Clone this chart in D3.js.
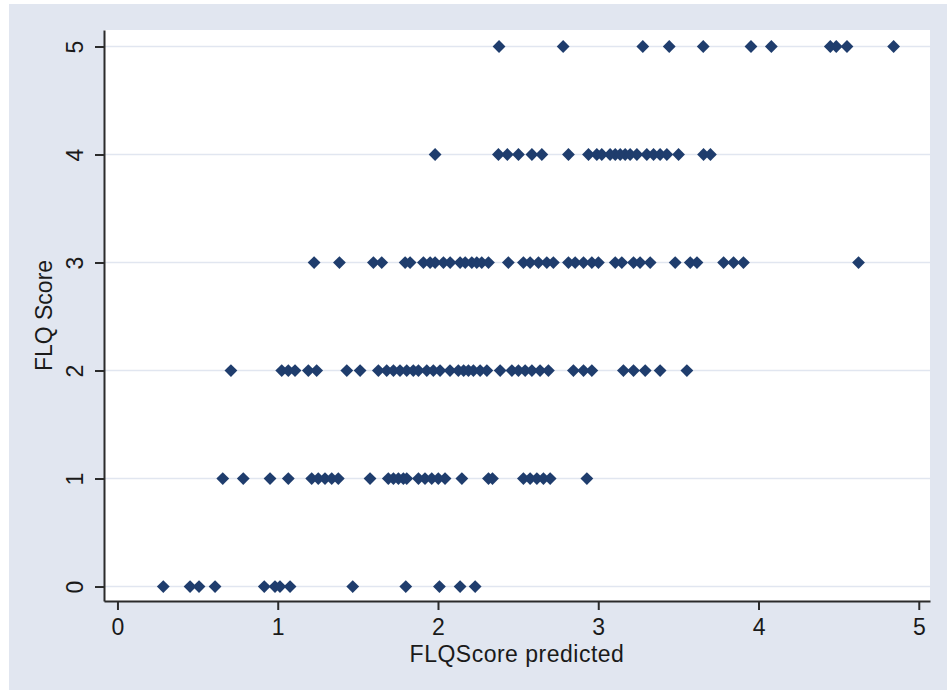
<!DOCTYPE html>
<html>
<head>
<meta charset="utf-8">
<script src="https://cdn.jsdelivr.net/npm/d3@7"></script>
<style>
  html, body { margin: 0; padding: 0; background: #fff; }
  svg { display: block; font-family: "Liberation Sans", Arial, sans-serif; }
</style>
</head>
<body>
<div id="chart"></div>
<script>
// predicted FLQ score, grouped by the observed FLQ score
const score0 = [0.286, 0.453, 0.509, 0.609, 0.916, 0.983, 1.014, 1.077, 1.468, 1.799, 2.009, 2.138, 2.232];
const score1 = [0.657, 0.785, 0.952, 1.066, 1.212, 1.253, 1.295, 1.337, 1.378, 1.576, 1.690, 1.722,
  1.753, 1.784, 1.805, 1.878, 1.919, 1.961, 2.002, 2.044, 2.149, 2.315, 2.340, 2.533, 2.575,
  2.617, 2.658, 2.700, 2.929];
const score2 = [0.708, 1.025, 1.066, 1.108, 1.191, 1.243, 1.431, 1.514, 1.628, 1.680, 1.722, 1.763,
  1.805, 1.846, 1.878, 1.930, 1.971, 2.013, 2.075, 2.127, 2.160, 2.190, 2.221, 2.263, 2.305,
  2.388, 2.461, 2.502, 2.544, 2.586, 2.637, 2.689, 2.845, 2.908, 2.960, 3.157, 3.220, 3.293,
  3.386, 3.553];
const score3 = [1.227, 1.385, 1.597, 1.649, 1.795, 1.826, 1.909, 1.951, 1.982, 2.034, 2.076, 2.138,
  2.170, 2.211, 2.242, 2.273, 2.315, 2.439, 2.533, 2.575, 2.627, 2.679, 2.720, 2.814, 2.856,
  2.908, 2.960, 3.001, 3.106, 3.147, 3.220, 3.261, 3.324, 3.480, 3.574, 3.616, 3.782, 3.844,
  3.906, 4.624];
const score4 = [1.982, 2.377, 2.433, 2.502, 2.586, 2.648, 2.814, 2.939, 2.991, 3.022, 3.074, 3.106,
  3.137, 3.168, 3.199, 3.241, 3.303, 3.345, 3.386, 3.428, 3.501, 3.657, 3.700];
const score5 = [2.381, 2.781, 3.278, 3.443, 3.655, 3.953, 4.080, 4.448, 4.485, 4.552, 4.843];

const xTicks = [0, 1, 2, 3, 4, 5];
const yTicks = [0, 1, 2, 3, 4, 5];
const xTitle = "FLQScore predicted";
const yTitle = "FLQ Score";

const W = 947, H = 691;
const plot = { left: 104, right: 930, top: 30, bottom: 601 };
const markColor = "#1f3d6d";

const points = [score0, score1, score2, score3, score4, score5]
  .flatMap((arr, score) => arr.map(p => ({ p, score })));

const x = d3.scaleLinear().domain([-0.084, 5.07]).range([plot.left, plot.right]);
const y = d3.scaleLinear().domain([-0.134, 5.153]).range([plot.bottom, plot.top]);

const svg = d3.select("#chart").append("svg")
    .attr("width", W)
    .attr("height", H);

// outer graph region
svg.append("rect")
    .attr("x", 9).attr("y", 4)
    .attr("width", W - 9).attr("height", 686)
    .attr("fill", "#e1e6f0");

// plot region
svg.append("rect")
    .attr("x", plot.left).attr("y", plot.top)
    .attr("width", plot.right - plot.left)
    .attr("height", plot.bottom - plot.top)
    .attr("fill", "#fff");

// grid
svg.append("g")
  .selectAll("line")
  .data(yTicks)
  .join("line")
    .attr("x1", plot.left).attr("x2", plot.right)
    .attr("y1", d => y(d)).attr("y2", d => y(d))
    .attr("stroke", "#e1e6f0")
    .attr("stroke-width", 1.6);

// markers
const diamond = "M0,-6.4L6.4,0L0,6.4L-6.4,0Z";
svg.append("g")
    .attr("fill", markColor)
  .selectAll("path")
  .data(points)
  .join("path")
    .attr("d", diamond)
    .attr("transform", d => `translate(${x(d.p)},${y(d.score)})`);

// axes
const xAxis = svg.append("g")
    .attr("transform", `translate(0,${plot.bottom})`)
    .call(d3.axisBottom(x).tickValues(xTicks).tickFormat(d3.format("d"))
      .tickSize(9).tickSizeOuter(0).tickPadding(9));

const yAxis = svg.append("g")
    .attr("transform", `translate(${plot.left},0)`)
    .call(d3.axisLeft(y).tickValues(yTicks).tickFormat(d3.format("d"))
      .tickSize(9).tickSizeOuter(0));

[xAxis, yAxis].forEach(g => {
  g.select(".domain").attr("stroke", "#2b2b2b").attr("stroke-width", 2);
  g.selectAll(".tick line").attr("stroke", "#2b2b2b").attr("stroke-width", 2);
  g.selectAll(".tick text")
      .attr("fill", "#1a1a1a")
      .style("font-size", "23px");
});

yAxis.selectAll(".tick text")
    .attr("transform", "rotate(-90)")
    .attr("text-anchor", "middle")
    .attr("x", 0)
    .attr("y", -21)
    .attr("dy", 0);

// titles
svg.append("text")
    .attr("x", (plot.left + plot.right) / 2)
    .attr("y", 662)
    .attr("text-anchor", "middle")
    .attr("fill", "#1a1a1a")
    .style("font-size", "23px")
    .style("letter-spacing", "0.5px")
    .text(xTitle);

svg.append("text")
    .attr("transform", `translate(52,${(plot.top + plot.bottom) / 2}) rotate(-90)`)
    .attr("text-anchor", "middle")
    .attr("fill", "#1a1a1a")
    .style("font-size", "23px")
    .text(yTitle);
</script>
</body>
</html>
